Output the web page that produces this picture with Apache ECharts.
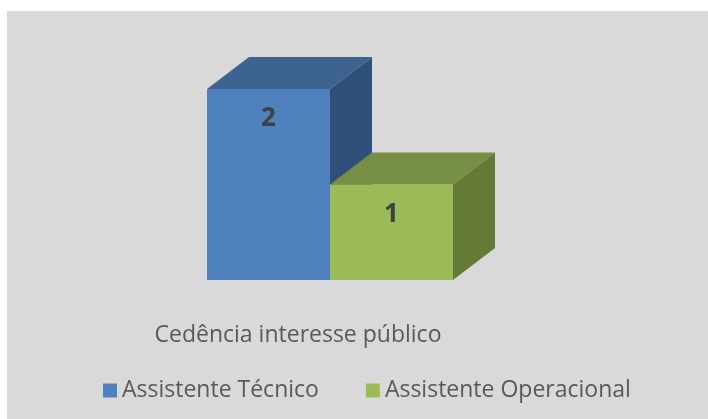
<!DOCTYPE html>
<html>
<head>
<meta charset="utf-8">
<script src="https://cdn.jsdelivr.net/npm/echarts@6/dist/echarts.min.js"></script>
<style>
  html, body { margin: 0; padding: 0; background: #ffffff; }
  #chart { position: absolute; left: 7px; top: 11px; width: 701px; height: 408px; }
</style>
</head>
<body>
<div id="chart"></div>
<script>
var categories = ['Cedência interesse público'];
var seriesNames = ['Assistente Técnico', 'Assistente Operacional'];
var tecnicoValues = [2];
var operacionalValues = [1];

// front / top / side colours for each series
var faceColors = [
    ['#4f81bd', '#3d6491', '#2f5179'],
    ['#9bbb59', '#768f44', '#647a36']
];

var depthX = 42;
var depthY = 32;

function renderBox(params, api) {
    var idx = params.seriesIndex;
    var band = api.size([1, 0])[0];
    var w = band / 2;
    var center = api.coord([api.value(0), 0]);
    var top = api.coord([api.value(0), api.value(1)])[1];
    var bottom = center[1];
    var x = center[0] - band / 2 + idx * w;
    var c = faceColors[idx];
    return {
        type: 'group',
        children: [{
            type: 'polygon',
            shape: { points: [[x + w, top], [x + w + depthX, top - depthY], [x + w + depthX, bottom - depthY], [x + w, bottom]] },
            style: { fill: c[2] }
        }, {
            type: 'polygon',
            shape: { points: [[x, top], [x + depthX, top - depthY], [x + w + depthX, top - depthY], [x + w, top]] },
            style: { fill: c[1] }
        }, {
            type: 'rect',
            shape: { x: x, y: top, width: w, height: bottom - top },
            style: { fill: c[0] }
        }, {
            type: 'text',
            x: x + w / 2,
            y: top + 30,
            style: {
                text: String(api.value(1)),
                align: 'center',
                verticalAlign: 'middle',
                fill: '#404040',
                font: 'bold 26px "Open Sans"'
            }
        }]
    };
}

var chart = echarts.init(document.getElementById('chart'));
var option = {
    backgroundColor: '#d9d9d9',
    animation: false,
    textStyle: { fontFamily: 'Open Sans' },
    grid: { left: 200, width: 246, top: 78, bottom: 139 },
    xAxis: {
        type: 'category',
        data: categories,
        axisLine: { show: false },
        axisTick: { show: false },
        axisLabel: {
            margin: 44,
            fontSize: 23,
            color: '#595959',
            padding: [0, 64, 0, 0]
        }
    },
    yAxis: {
        type: 'value',
        min: 0,
        max: 2,
        show: false
    },
    legend: {
        left: 96,
        top: 368,
        padding: 0,
        itemWidth: 14,
        itemHeight: 14,
        itemGap: 47,
        icon: 'rect',
        textStyle: { fontSize: 23, color: '#595959' },
        data: seriesNames
    },
    series: [{
        name: seriesNames[0],
        type: 'custom',
        renderItem: renderBox,
        itemStyle: { color: faceColors[0][0] },
        data: tecnicoValues.map(function (v, i) { return [i, v]; })
    }, {
        name: seriesNames[1],
        type: 'custom',
        renderItem: renderBox,
        itemStyle: { color: faceColors[1][0] },
        data: operacionalValues.map(function (v, i) { return [i, v]; })
    }]
};
chart.setOption(option);
</script>
</body>
</html>
